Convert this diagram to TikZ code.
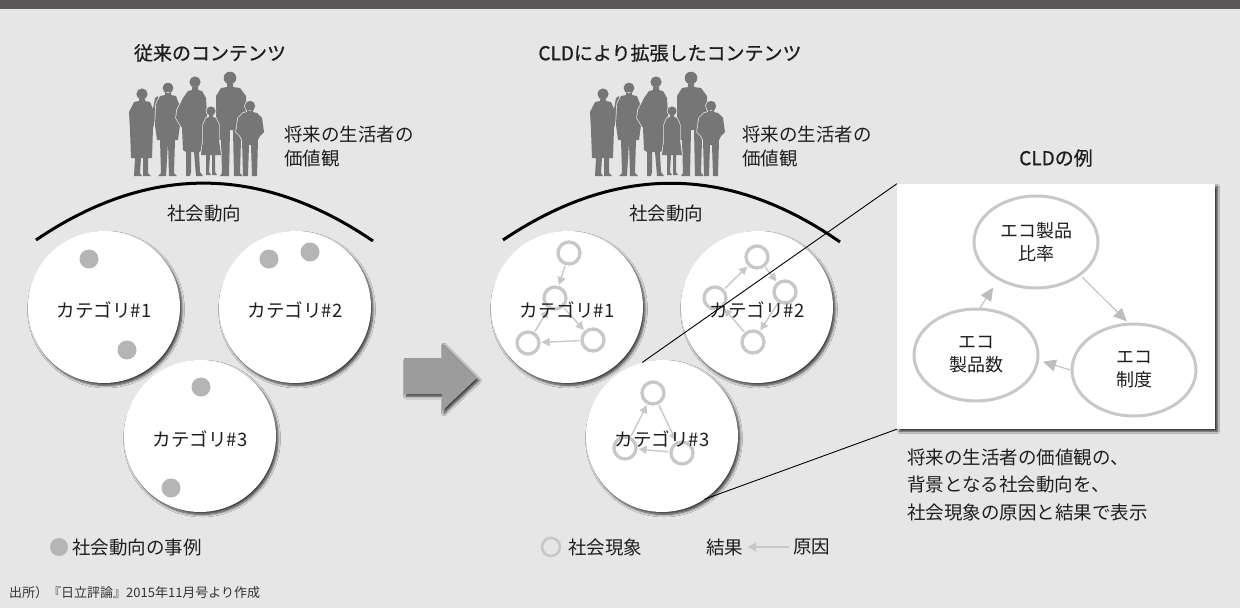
\documentclass[tikz,border=0pt]{standalone}
\usepackage{fontspec}
\setmainfont{Noto Sans CJK JP}
\newfontfamily\headfont{Noto Sans CJK JP}[FakeBold=0.9]
\usetikzlibrary{arrows.meta,shapes.geometric,shadows.blur}

\definecolor{bg}{HTML}{E6E6E6}
\definecolor{barc}{HTML}{595758}
\definecolor{crowdc}{HTML}{767676}
\definecolor{dotc}{HTML}{B5B5B5}
\definecolor{netc}{HTML}{C8C8C8}
\definecolor{bigarrow}{HTML}{9C9C9C}
\definecolor{ink}{HTML}{1E1E1E}

\newcommand\fsz[2]{\fontsize{#1}{#2}\selectfont}

\tikzset{
  lbl/.style={font=\fsz{18.5}{24}, text=ink, inner sep=0pt},
  titletext/.style={font=\headfont\fsz{19}{24}, text=ink, inner sep=0pt},
  softshadow/.style={blur shadow={shadow xshift=2pt, shadow yshift=-2.5pt,
      shadow blur radius=2.5pt, shadow blur steps=6, shadow opacity=75}},
  catcircle/.style={circle, fill=white, minimum size=152pt, inner sep=0pt, softshadow},
  example/.style={circle, fill=dotc, minimum size=19pt, inner sep=0pt},
  phen/.style={circle, draw=netc, line width=3.3pt, minimum size=22pt, inner sep=0pt},
  net/.style={draw=netc, line width=1.4pt, -{Triangle[length=8pt,width=8pt]},
      shorten >=1pt, shorten <=1pt},
  cldnode/.style={ellipse, draw=netc, line width=3pt, minimum width=124pt,
      minimum height=92pt, align=center, font=\fsz{18}{23}, text=ink, inner sep=0pt},
  cldarrow/.style={draw=netc!95!black, line width=1pt,
      -{Triangle[length=13pt,width=12pt]}},
  legarrow/.style={draw=netc, line width=1.6pt, -{Triangle[length=9pt,width=9pt]},
      shorten >=4pt, shorten <=4pt},
  arc/.style={draw=black, line width=3pt},
  zoomline/.style={draw=black, line width=0.9pt},
  % outline first, then the fill covers the inner strokes of one figure
  person/.style={preaction={draw=bg, line width=1.4pt, line join=round}, fill=crowdc},
  crowd/.pic={
    % woman with raised hand
    \path[person] (134,102) -- (139,101) -- (139,99) -- (145,99) -- (145,101) -- (150,102)
      -- (153,109) -- (155,98) -- (158,96) -- (159,101) -- (156,117) -- (153,128)
      -- (152,158) -- (148,158) -- (148,173) -- (151,176) -- (143,176) -- (143,158)
      -- (141,158) -- (140,173) -- (142,176) -- (134,176) -- (135,158) -- (131,158)
      -- (130,130) -- (129,112) -- cycle
      (142,94) circle[radius=5.6pt];
    % man in a jacket
    \path[person] (160,96) -- (165,95) -- (165,92) -- (171,92) -- (171,95) -- (176,96)
      -- (179,104) -- (180,125) -- (178,140) -- (175,140) -- (174,173) -- (177,176)
      -- (169,176) -- (168,142) -- (166,176) -- (158,176) -- (161,173) -- (160,140)
      -- (157,140) -- (155,125) -- (156,104) -- cycle
      (168,88) circle[radius=5.4pt];
    % tall woman, hand on hip
    \path[person] (188,91) -- (192,90) -- (192,87) -- (198,87) -- (198,90) -- (202,91)
      -- (206,98) -- (207,115) -- (205,128) -- (203,150) -- (199,152) -- (200,172)
      -- (203,176) -- (196,176) -- (194,152) -- (191,152) -- (191,172) -- (190,176)
      -- (186,176) -- (186,152) -- (183,150) -- (182,128) -- (176,118) -- (177,110)
      -- (183,98) -- cycle
      (195,82) circle[radius=5.6pt];
    % tall man
    \path[person] (221,88) -- (227,87) -- (227,84) -- (233,84) -- (233,87) -- (240,88)
      -- (246,96) -- (247,125) -- (244,140) -- (241,140) -- (240,173) -- (243,176)
      -- (234,176) -- (233,130) -- (230,130) -- (229,176) -- (220,176) -- (222,173)
      -- (221,140) -- (218,140) -- (216,125) -- (216,96) -- cycle
      (230,78) circle[radius=6.3pt];
    % girl
    \path[person] (206,118) -- (209,117) -- (209,115) -- (213,115) -- (213,117) -- (216,118)
      -- (219,125) -- (219,140) -- (221,155) -- (215,155) -- (215,172) -- (217,175)
      -- (212,175) -- (212,155) -- (210,155) -- (209,172) -- (211,175) -- (206,175)
      -- (206,155) -- (201,155) -- (203,140) -- (203,125) -- cycle
      (211,111) circle[radius=4.6pt];
    % boy
    \path[person] (243,113) -- (247,112) -- (247,110) -- (253,110) -- (253,112) -- (257,113)
      -- (262,118) -- (264,132) -- (260,136) -- (258,140) -- (257,176) -- (252,176)
      -- (251,145) -- (249,145) -- (248,176) -- (243,176) -- (242,140) -- (240,136)
      -- (236,132) -- (238,118) -- cycle
      (250,106) circle[radius=5.2pt];
  }
}

\begin{document}
\begin{tikzpicture}[x=1pt,y=-1pt]
\fill[bg] (0,0) rectangle (1240,608);
\useasboundingbox (0,0) rectangle (1240,608);
\fill[barc] (0,0) rectangle (1240,9);

% ---------- titles ----------
\node[titletext] (titleL) at (210,53) {従来のコンテンツ};
\node[titletext] (titleR) at (670,53) {CLDにより拡張したコンテンツ};
\node[titletext] (titleC) at (1056,158) {CLDの例};

% ---------- people ----------
\pic (crowdL) at (0,0) {crowd};
\pic (crowdR) at (461,0) {crowd};
\node[lbl, anchor=west, align=left] (valL) at (284,146) {将来の生活者の\\価値観};
\node[lbl, anchor=west, align=left] (valR) at (742,146) {将来の生活者の\\価値観};

% ---------- social trend arcs ----------
\draw[arc] (36,240) .. controls (148,164) and (260,164) .. (373,241);
\draw[arc] (503,240) .. controls (616,164) and (728,164) .. (840,242);
\node[lbl] (trendL) at (204,213) {社会動向};
\node[lbl] (trendR) at (666,213) {社会動向};

% ---------- category circles, conventional ----------
\node[catcircle] (L1) at (104,307) {};
\node[catcircle] (L2) at (295,307) {};
\node[catcircle] (L3) at (200,436) {};
\node[example] (e1) at (89,259) {};
\node[example] (e2) at (127,350) {};
\node[example] (e3) at (269,259) {};
\node[example] (e4) at (310,252) {};
\node[example] (e5) at (201,387) {};
\node[example] (e6) at (171,488) {};
\node[lbl, yshift=-3pt] (tL1) at (L1) {カテゴリ\#1};
\node[lbl, yshift=-3pt] (tL2) at (L2) {カテゴリ\#2};
\node[lbl, yshift=-3pt] (tL3) at (L3) {カテゴリ\#3};

% ---------- big arrow ----------
\fill[bigarrow, softshadow] (404,358) -- (442,358) -- (442,343) -- (477,378)
  -- (442,411) -- (442,394) -- (404,394) -- cycle;

% ---------- category circles, extended with CLD ----------
\node[catcircle] (R1) at (567,307) {};
\node[catcircle] (R2) at (757,307) {};
\node[catcircle] (R3) at (662,436) {};

\node[phen] (a1) at (569,253) {};
\node[phen] (b1) at (555,298) {};
\node[phen] (c1) at (528,343) {};
\node[phen] (d1) at (593,340) {};
\draw[net] (a1) -- (b1);
\draw[net] (b1) -- (d1);
\draw[net] (d1) -- (c1);
\draw[net] (c1) -- (b1);

\node[phen] (a2) at (757,257) {};
\node[phen] (b2) at (785,292) {};
\node[phen] (c2) at (753,342) {};
\node[phen] (d2) at (715,298) {};
\draw[net] (d2) -- (a2);
\draw[net] (a2) -- (b2);
\draw[net] (b2) -- (c2);
\draw[net] (c2) -- (d2);

\node[phen] (a3) at (653,393) {};
\node[phen] (b3) at (625,448) {};
\node[phen] (c3) at (682,453) {};
\draw[net] (b3) -- (a3);
\draw[net] (a3) -- (c3);
\draw[net] (c3) -- (b3);

\node[lbl, yshift=-3pt] (tR1) at (R1) {カテゴリ\#1};
\node[lbl, yshift=-3pt] (tR2) at (R2) {カテゴリ\#2};
\node[lbl, yshift=-3pt] (tR3) at (R3) {カテゴリ\#3};

% ---------- CLD example ----------
\node[fill=white, minimum width=318pt, minimum height=245pt, inner sep=0pt,
      blur shadow={shadow xshift=2.5pt, shadow yshift=-2.5pt, shadow blur radius=2pt,
      shadow blur steps=5, shadow opacity=75}] (box) at (1056,306.5) {};
\node[cldnode] (ratio) at (1036,242) {エコ製品\\比率};
\node[cldnode] (count) at (976,355) {エコ\\製品数};
\node[cldnode] (policy) at (1134,370) {エコ\\制度};
\draw[cldarrow, shorten >=9pt] (count.85) -- (ratio.225);
\draw[cldarrow, shorten >=2pt, shorten <=2pt] (ratio.-37) -- (policy.97);
\draw[cldarrow, shorten >=4pt] (policy.180) -- (count.-5);

\draw[zoomline] (R3.105) -- (box.north west);
\draw[zoomline] (R3.-56) -- (box.south west);

\node[lbl, anchor=west, align=left, font=\fsz{18.5}{27.5}] (desc) at (907,485)
  {将来の生活者の価値観の、\\背景となる社会動向を、\\社会現象の原因と結果で表示};

% ---------- legend ----------
\node[example, minimum size=18pt] (legdot) at (59,547) {};
\node[lbl, anchor=west] (legdott) at (72,547) {社会動向の事例};
\node[phen, minimum size=18pt, line width=2.6pt] (legcirc) at (551,547) {};
\node[lbl, anchor=west] (legcirct) at (568,547) {社会現象};
\node[lbl, anchor=west] (legeff) at (706,547) {結果};
\node[lbl, anchor=west] (legcause) at (793,547) {原因};
\draw[legarrow] (legcause.west) -- (legeff.east);

% ---------- source ----------
\node[anchor=west, inner sep=0pt, font=\fsz{13}{16}, text=black!80] (src) at (9,593)
  {出所）『日立評論』2015年11月号より作成};
\end{tikzpicture}
\end{document}
